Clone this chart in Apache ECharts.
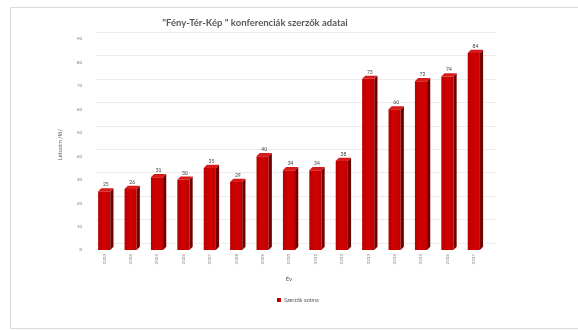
<!DOCTYPE html>
<html>
<head>
<meta charset="utf-8">
<script src="https://cdn.jsdelivr.net/npm/echarts@6/dist/echarts.min.js"></script>
<style>
  html, body { margin: 0; padding: 0; background: #fff; }
  #chart { width: 578px; height: 331px; }
</style>
</head>
<body>
<div id="chart"></div>
<script>
// Conference author counts per year
const years = ['2003', '2004', '2005', '2006', '2007', '2008', '2009', '2010',
               '2011', '2012', '2013', '2014', '2015', '2016', '2017'];
const authors = [25, 26, 31, 30, 35, 29, 40, 34, 34, 38, 73, 60, 72, 74, 84];
const yTicks = [0, 10, 20, 30, 40, 50, 60, 70, 80, 90];

const FONT = 'Lato, "Open Sans", sans-serif';
const GREY = '#595959';

// Draws one column as a pseudo-3D block: front face, right side and top.
function renderBlock(params, api) {
  const idx = api.value(0);
  const val = api.value(1);
  const base = api.coord([idx, 0]);
  const top = api.coord([idx, val]);
  const band = api.size([1, 0])[0];
  const w = band * 0.46;
  const d = 3.2;
  const xl = base[0] - w / 2;
  const xr = base[0] + w / 2;
  const yt = top[1];
  const yb = base[1];
  return {
    type: 'group',
    children: [
      {
        type: 'rect',
        shape: { x: xl, y: yt, width: w, height: yb - yt },
        style: {
          fill: new echarts.graphic.LinearGradient(0, 0, 1, 0, [
            { offset: 0, color: '#b80000' },
            { offset: 0.5, color: '#d20000' },
            { offset: 1, color: '#c00000' }
          ])
        }
      },
      {
        type: 'polygon',
        shape: { points: [[xr, yt], [xr + d, yt - d], [xr + d, yb - d], [xr, yb]] },
        style: { fill: '#720000' }
      },
      {
        type: 'polygon',
        shape: { points: [[xl, yt], [xl + d, yt - d], [xr + d, yt - d], [xr, yt]] },
        style: { fill: '#d81a1a' }
      },
      {
        type: 'text',
        style: {
          text: String(val),
          x: base[0] + d / 2,
          y: yt - d - 1,
          align: 'center',
          verticalAlign: 'bottom',
          fill: '#404040',
          font: '5px ' + FONT
        }
      }
    ]
  };
}

const chart = echarts.init(document.getElementById('chart'), null, { renderer: 'canvas' });

chart.setOption({
  backgroundColor: '#ffffff',
  animation: false,
  title: {
    text: '"Fény-Tér-Kép " konferenciák szerzők adatai',
    left: 250,
    textAlign: 'center',
    top: 13,
    textStyle: { fontFamily: FONT, fontSize: 9.5, fontWeight: 'bold', color: GREY }
  },
  graphic: [{
    type: 'rect',
    shape: { x: 10.5, y: 7.5, width: 600, height: 321 },
    style: { fill: 'none', stroke: '#d9d9d9', lineWidth: 1 },
    silent: true,
    z: -10
  }],
  legend: {
    data: ['Szerzők száma'],
    left: 272,
    top: 292,
    icon: 'rect',
    itemWidth: 4,
    itemHeight: 4,
    itemGap: 4,
    textStyle: { fontFamily: FONT, fontSize: 5.5, color: GREY, padding: [0, 0, 0, -2] }
  },
  grid: [
    // front plane: columns and axis labels
    { left: 91, right: 91, top: 39, bottom: 81 },
    // back wall: horizontal gridlines
    { left: 96, right: 81, top: 32, bottom: 88 }
  ],
  xAxis: [
    {
      gridIndex: 0,
      type: 'category',
      data: years,
      name: 'Év',
      nameLocation: 'middle',
      nameGap: 26,
      nameTextStyle: { fontFamily: FONT, fontSize: 6, color: GREY },
      axisLine: { show: false },
      axisTick: { show: false },
      axisLabel: { rotate: 90, margin: 4, fontFamily: FONT, fontSize: 4.5, color: '#7f7f7f' }
    },
    {
      gridIndex: 1,
      type: 'value',
      min: 0,
      max: 1,
      show: false
    }
  ],
  yAxis: [
    {
      gridIndex: 0,
      type: 'value',
      min: yTicks[0],
      max: yTicks[yTicks.length - 1],
      interval: 10,
      name: 'Létszám /fő/',
      nameLocation: 'middle',
      nameRotate: 90,
      nameGap: 28,
      nameTextStyle: { fontFamily: FONT, fontSize: 5.5, color: GREY },
      axisLine: { show: false },
      axisTick: { show: false },
      splitLine: { show: false },
      axisLabel: { margin: 9, fontFamily: FONT, fontSize: 4.5, color: '#7f7f7f' }
    },
    {
      gridIndex: 1,
      type: 'value',
      min: yTicks[0],
      max: yTicks[yTicks.length - 1],
      interval: 10,
      axisLine: { show: false },
      axisTick: { show: false },
      axisLabel: { show: false },
      splitLine: { show: true, lineStyle: { color: '#ececec', width: 1 } }
    }
  ],
  series: [{
    name: 'Szerzők száma',
    type: 'custom',
    xAxisIndex: 0,
    yAxisIndex: 0,
    renderItem: renderBlock,
    itemStyle: { color: '#c00000' },
    encode: { x: 0, y: 1 },
    data: authors.map((v, i) => [i, v]),
    z: 5
  }]
});
</script>
</body>
</html>
